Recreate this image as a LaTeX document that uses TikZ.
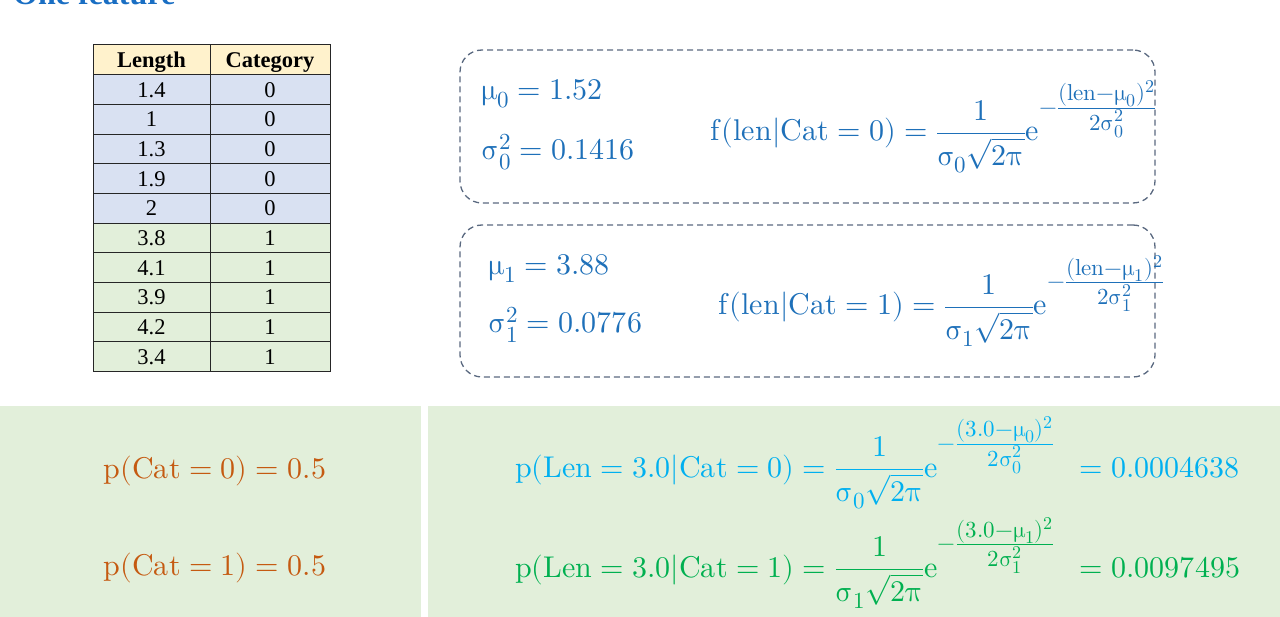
\documentclass[tikz,border=0pt]{standalone}
\usepackage[math-style=upright]{unicode-math}
\setmainfont{Liberation Serif}
\setmathfont{Latin Modern Math}
\DeclareMathSizes{30}{30}{23}{18}
\definecolor{headyellow}{HTML}{FFF2CC}
\definecolor{rowblue}{HTML}{D9E1F2}
\definecolor{rowgreen}{HTML}{E2EFDA}
\definecolor{boxblue}{RGB}{30,112,185}
\definecolor{dashgray}{RGB}{90,105,128}
\definecolor{priororange}{HTML}{C55A11}
\definecolor{likecyan}{HTML}{00B0F0}
\definecolor{likegreen}{HTML}{00B050}
\definecolor{titleblue}{RGB}{25,110,195}
\newcommand{\gaussexp}[2]{e^{-\frac{\scriptstyle #1}{\scriptstyle #2}}}
\tikzset{%
  % Specifications for style of nodes:
  cell/.style = {
    minimum height=29.7pt,
    inner sep=0pt,
    outer sep=0pt,
    text height=20pt,
    text depth=5pt,
    draw=black!85,
    line width=1pt,
    text centered,
    font=\fontsize{22.5}{26}\selectfont
  },
  lencell/.style={cell, minimum width=117pt},
  catcell/.style={cell, minimum width=120pt},
  headcell/.style={fill=headyellow, font=\fontsize{22.5}{26}\selectfont\bfseries},
  catzero/.style={fill=rowblue},
  catone/.style={fill=rowgreen},
  dashbox/.style={draw=dashgray, line width=1.3pt, dash pattern=on 6pt off 4pt,
    rounded corners=22pt, minimum width=695pt, inner sep=0pt},
  panel/.style={fill=rowgreen, inner sep=0pt, minimum height=211pt},
  formula/.style={inner sep=0pt, font=\fontsize{30}{36}\selectfont},
}

\begin{document}
\begin{tikzpicture}[
  x=1pt, y=1pt,
  node distance=29.7pt,
  ]
  \useasboundingbox (0,0) rectangle (1280,-617);
  % title
  \node (title) [anchor=base west, inner sep=0pt, text=titleblue,
    font=\fontsize{32}{38}\selectfont\bfseries] at (13,-5) {One feature};
  % table
  \node (lenhead) [lencell, headcell] at (151.5,-59.85) {Length};
  \node (cathead) [catcell, headcell, right of=lenhead, node distance=118.5pt] {Category};
  \node (len1) [lencell, catzero, below of=lenhead] {1.4};
  \node (cat1) [catcell, catzero, below of=cathead] {0};
  \node (len2) [lencell, catzero, below of=len1] {1};
  \node (cat2) [catcell, catzero, below of=cat1] {0};
  \node (len3) [lencell, catzero, below of=len2] {1.3};
  \node (cat3) [catcell, catzero, below of=cat2] {0};
  \node (len4) [lencell, catzero, below of=len3] {1.9};
  \node (cat4) [catcell, catzero, below of=cat3] {0};
  \node (len5) [lencell, catzero, below of=len4] {2};
  \node (cat5) [catcell, catzero, below of=cat4] {0};
  \node (len6) [lencell, catone, below of=len5] {3.8};
  \node (cat6) [catcell, catone, below of=cat5] {1};
  \node (len7) [lencell, catone, below of=len6] {4.1};
  \node (cat7) [catcell, catone, below of=cat6] {1};
  \node (len8) [lencell, catone, below of=len7] {3.9};
  \node (cat8) [catcell, catone, below of=cat7] {1};
  \node (len9) [lencell, catone, below of=len8] {4.2};
  \node (cat9) [catcell, catone, below of=cat8] {1};
  \node (len10) [lencell, catone, below of=len9] {3.4};
  \node (cat10) [catcell, catone, below of=cat9] {1};
  % estimates per category
  \node (box0) [dashbox, minimum height=153pt] at (807.5,-126.5) {};
  \node (box1) [dashbox, minimum height=152pt] at (807.5,-301) {};
  \node (mu0) [formula, text=boxblue, anchor=base west] at (481,-100) {$\mu_0 = 1{.}52$};
  \node (sigma0) [formula, text=boxblue, anchor=base west] at (481,-160) {$\sigma_0^2 = 0{.}1416$};
  \node (dens0) [formula, text=boxblue, anchor=base west] at (710,-141)
  {$f(len{|}Cat = 0) = \dfrac{1}{\sigma_0\sqrt{2\pi}}\gaussexp{(len-\mu_0)^2}{2\sigma_0^2}$};
  \node (mu1) [formula, text=boxblue, anchor=base west] at (488,-275) {$\mu_1 = 3{.}88$};
  \node (sigma1) [formula, text=boxblue, anchor=base west] at (488,-333) {$\sigma_1^2 = 0{.}0776$};
  \node (dens1) [formula, text=boxblue, anchor=base west] at (718,-315)
  {$f(len{|}Cat = 1) = \dfrac{1}{\sigma_1\sqrt{2\pi}}\gaussexp{(len-\mu_1)^2}{2\sigma_1^2}$};
  % priors and likelihoods
  \node (priorpanel) [panel, minimum width=421pt] at (210.5,-511.5) {};
  \node (likepanel) [panel, minimum width=852pt] at (854,-511.5) {};
  \node (prior0) [formula, text=priororange, anchor=base] at (215,-478) {$p(Cat = 0) = 0{.}5$};
  \node (prior1) [formula, text=priororange, anchor=base] at (215,-575) {$p(Cat = 1) = 0{.}5$};
  \node (like0) [formula, text=likecyan, anchor=base west] at (515,-477)
  {$p(Len = 3{.}0{|}Cat = 0) = \dfrac{1}{\sigma_0\sqrt{2\pi}}\gaussexp{(3{.}0-\mu_0)^2}{2\sigma_0^2}\;\; = 0{.}0004638$};
  \node (like1) [formula, text=likegreen, anchor=base west] at (515,-577)
  {$p(Len = 3{.}0{|}Cat = 1) = \dfrac{1}{\sigma_1\sqrt{2\pi}}\gaussexp{(3{.}0-\mu_1)^2}{2\sigma_1^2}\;\; = 0{.}0097495$};
\end{tikzpicture}
\end{document}
